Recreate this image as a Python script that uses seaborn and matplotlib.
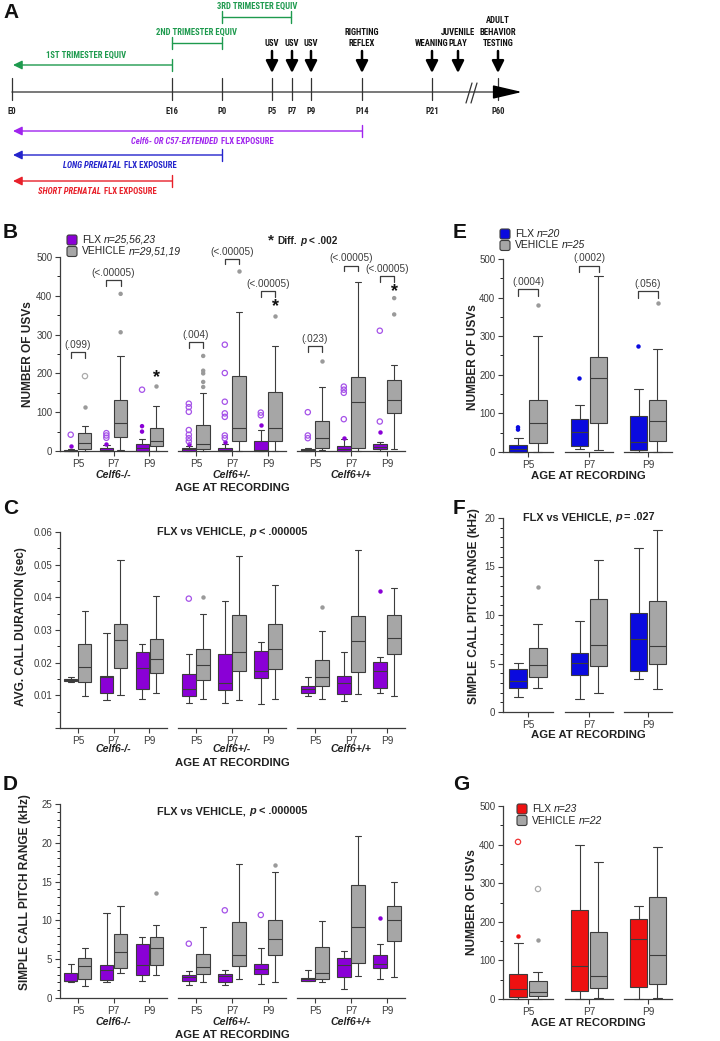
"""
plot.py
Prenatal FLX exposure timeline (A) and USV box plots (B-G), saved as out.png.
"""

import matplotlib
matplotlib.use("Agg")
import matplotlib.pyplot as plt
import pandas as pd
import seaborn as sns
from matplotlib import font_manager
from matplotlib.offsetbox import AnnotationBbox, HPacker, TextArea
from matplotlib.patches import FancyBboxPatch
from matplotlib.ticker import FuncFormatter, MultipleLocator

W, H = 720, 1041
AGES = ["P5", "P7", "P9"]
GENOTYPES = ["Celf6-/-", "Celf6+/-", "Celf6+/+"]
GROUPS = ["FLX", "VEHICLE"]

# five-number summaries: [low whisker, Q1, median, Q3, high whisker], per genotype per age
usv_flx = [[[0, 0, 1, 3, 6], [0, 0, 2, 8, 15], [0, 0, 9, 19, 32]],
           [[0, 0, 4, 8, 14], [0, 0, 3, 8, 18], [0, 0, 2, 27, 54]],
           [[0, 0, 2, 6, 9], [0, 0, 5, 13, 30], [0, 4, 11, 19, 24]]]
usv_veh = [[[0, 5, 21, 46, 65], [2, 36, 72, 131, 244], [0, 13, 26, 59, 117]],
           [[0, 6, 17, 67, 149], [0, 27, 59, 193, 357], [0, 25, 60, 152, 270]],
           [[2, 8, 34, 77, 164], [0, 9, 127, 190, 436], [5, 97, 131, 182, 222]]]
usv_flx_dots = [[[12], [19], [50, 64]], [[18], [22], [68]], [[], [33], [48]]]
usv_flx_rings = [[[42], [34, 40, 46], [158]],
                 [[25, 33, 42, 54, 101, 113, 122], [33, 40, 88, 97, 127, 201, 274], [92, 99]],
                 [[33, 40, 100], [82, 150, 158, 166], [76, 310]]]
usv_veh_dots = [[[114], [306, 405], [167]],
                [[165, 178, 200, 207, 245], [465], [348]],
                [[233], [], [352, 394]]]
usv_veh_rings = [[[193], [], []], [[], [], []], [[], [], []]]
usv_brackets = [[(0, 255, "(.099)"), (1, 440, "(<.00005)")],
                [(0, 281, "(.004)"), (1, 496, "(<.00005)"), (2, 412, "(<.00005)")],
                [(0, 271, "(.023)"), (1, 478, "(<.00005)"), (2, 450, "(<.00005)")]]
usv_stars = [(2, 190), (2, 371), (2, 412)]

dur_flx = [[[0.0141, 0.0143, 0.0146, 0.0149, 0.0156], [0.0085, 0.0108, 0.0156, 0.0158, 0.0291],
            [0.0090, 0.0120, 0.0184, 0.0232, 0.0258]],
           [[0.0077, 0.0098, 0.0120, 0.0164, 0.0228], [0.0077, 0.0115, 0.0138, 0.0228, 0.0388],
            [0.0072, 0.0153, 0.0176, 0.0236, 0.0263]],
           [[0.0098, 0.0108, 0.0120, 0.0129, 0.0155], [0.0083, 0.0105, 0.0138, 0.0158, 0.0233],
            [0.0108, 0.0122, 0.0173, 0.0202, 0.0217]]]
dur_veh = [[[0.0097, 0.0141, 0.0187, 0.0258, 0.0358], [0.0102, 0.0184, 0.0270, 0.0317, 0.0513],
            [0.0107, 0.0169, 0.0210, 0.0273, 0.0403]],
           [[0.0088, 0.0146, 0.0194, 0.0242, 0.0350], [0.0087, 0.0174, 0.0233, 0.0347, 0.0527],
            [0.0090, 0.0180, 0.0243, 0.0319, 0.0439]],
           [[0.0089, 0.0128, 0.0155, 0.0209, 0.0297], [0.0105, 0.0171, 0.0267, 0.0342, 0.0544],
            [0.0098, 0.0228, 0.0276, 0.0345, 0.0430]]]
dur_flx_dots = [[[], [], []], [[], [], []], [[], [], [0.0419]]]
dur_flx_rings = [[[], [], []], [[0.0396], [], []], [[], [], []]]
dur_veh_dots = [[[], [], []], [[0.0401], [], []], [[0.0370], [], []]]

pitch_flx = [[[2.1, 2.15, 2.25, 3.2, 4.4], [2.1, 2.3, 3.6, 4.2, 10.9], [2.2, 2.9, 4.3, 6.9, 7.9]],
             [[1.7, 2.2, 2.7, 3.0, 3.5], [1.7, 2.1, 2.8, 3.1, 3.6], [1.8, 3.1, 3.8, 4.4, 6.4]],
             [[2.2, 2.2, 2.5, 2.6, 3.6], [1.2, 2.7, 4.3, 5.2, 6.0], [2.4, 3.9, 4.4, 5.5, 7.0]]]
pitch_veh = [[[1.6, 2.4, 4.1, 5.1, 6.4], [3.2, 3.9, 5.9, 8.2, 11.8], [2.9, 4.3, 6.4, 7.9, 9.4]],
             [[2.1, 3.1, 4.0, 5.7, 9.1], [2.4, 4.1, 5.6, 9.8, 17.3], [2.1, 5.5, 7.6, 10.1, 16.3]],
             [[2.0, 2.4, 3.2, 6.6, 9.9], [2.8, 4.5, 9.1, 14.6, 20.9], [2.7, 7.4, 10.1, 11.8, 14.9]]]
pitch_flx_dots = [[[], [], []], [[], [], []], [[], [], [10.3]]]
pitch_flx_rings = [[[], [], []], [[7.0], [11.3], [10.7]], [[], [], []]]
pitch_veh_dots = [[[], [], [13.5]], [[], [], [17.2]], [[], [], []]]

# long prenatal exposure (E, F), per age
long_usv_flx = [[0, 0, 9, 17, 35], [8, 16, 51, 85, 121], [0, 6, 26, 92, 162]]
long_usv_veh = [[0, 23, 75, 135, 300], [6, 75, 193, 247, 455], [0, 29, 81, 135, 268]]
long_usv_flx_dots = [[58, 64], [191], [275]]
long_usv_veh_dots = [[381], [], [386]]
long_usv_brackets = [(0, 421, "(.0004)"), (1, 483, "(.0002)"), (2, 417, "(.056)")]
long_pitch_flx = [[1.5, 2.5, 3.2, 4.45, 5.1], [1.3, 3.8, 5.1, 6.1, 9.4], [3.4, 4.2, 7.5, 10.2, 16.9]]
long_pitch_veh = [[2.5, 3.6, 4.8, 6.6, 9.1], [2.0, 4.7, 6.9, 11.7, 15.7], [2.4, 4.9, 6.8, 11.4, 18.8]]
long_pitch_veh_dots = [[12.9], [], []]

# short prenatal exposure (G), per age
short_usv_flx = [[0, 6, 25, 66, 146], [0, 21, 86, 231, 399], [0, 32, 156, 206, 241]]
short_usv_veh = [[0, 9, 19, 47, 69], [2, 29, 60, 174, 354], [2, 40, 113, 264, 395]]
short_usv_flx_dots = [[163], [], []]
short_usv_flx_rings = [[407], [], []]
short_usv_veh_dots = [[152], [], []]
short_usv_veh_rings = [[285], [], []]

# timeline (A)
tl_labels = ["E0", "E16", "P0", "P5", "P7", "P9", "P14", "P21", "P60"]
tl_x = [12, 172, 222, 272, 292, 311, 362, 432, 498]

INK = "#3c3c3c"
PURPLE, BLUE, RED, GRAY = "#8A00D6", "#0A0ADF", "#EE1111", "#A6A6A6"
GREEN, TL_PURPLE, TL_BLUE, TL_RED = "#1E9A4E", "#A024EE", "#2424CC", "#E8202A"

sns.set_theme(style="ticks")
plt.rcParams["font.family"] = ["Liberation Sans", "DejaVu Sans"]
plt.rcParams["axes.linewidth"] = 0.9
plt.rcParams["axes.edgecolor"] = INK


def pick_family(names):
    for name in names:
        try:
            font_manager.findfont(font_manager.FontProperties(family=name), fallback_to_default=False)
            return name
        except ValueError:
            continue
    return None


NARROW = pick_family(["Liberation Sans Narrow", "Roboto Condensed", "Open Sans Condensed"])
TL_FONT = NARROW or "Liberation Sans"
TL_SIZE = 6.2 if NARROW else 5.1


def px_axes(fig, x0, x1, y0, y1):
    return fig.add_axes([x0 / W, 1 - y1 / H, (x1 - x0) / W, (y1 - y0) / H])


def frame(ages, flx, veh):
    rows = [(age, grp, v) for grp, per_age in zip(GROUPS, (flx, veh))
            for age, vals in zip(ages, per_age) for v in vals]
    return pd.DataFrame(rows, columns=["age", "group", "value"])


def draw_boxes(ax, ages, flx, veh, colors, flx_dots=None, veh_dots=None, flx_rings=None, veh_rings=None):
    empty = [[] for _ in ages]
    sns.boxplot(data=frame(ages, flx, veh), x="age", y="value", hue="group", order=ages,
                hue_order=GROUPS, palette=dict(zip(GROUPS, colors[0])), whis=(0, 100),
                width=0.78, gap=0.06, linewidth=0.8, linecolor=INK, saturation=1,
                showfliers=False, legend=False, ax=ax)
    dots = frame(ages, flx_dots or empty, veh_dots or empty)
    if len(dots):
        sns.stripplot(data=dots, x="age", y="value", hue="group", order=ages, hue_order=GROUPS,
                      palette=dict(zip(GROUPS, colors[1])), dodge=True, jitter=False, size=3.2,
                      linewidth=0, legend=False, ax=ax)
    rings = frame(ages, flx_rings or empty, veh_rings or empty)
    if len(rings):
        n0 = len(ax.collections)
        sns.stripplot(data=rings, x="age", y="value", hue="group", order=ages, hue_order=GROUPS,
                      palette=dict(zip(GROUPS, colors[2])), dodge=True, jitter=False, size=3.8,
                      linewidth=0, legend=False, ax=ax)
        for coll in ax.collections[n0:]:
            coll.set_edgecolor(coll.get_facecolor())
            coll.set_facecolor("none")
            coll.set_linewidth(0.9)
    for art in ax.patches + ax.lines + ax.collections:
        art.set_clip_on(False)


def style_axes(ax, n, first, ylim, major, minor, fmt):
    ax.set_xlim(-0.5, n - 0.5)
    ax.set_ylim(*ylim)
    ax.set_xlabel("")
    ax.set_ylabel("")
    ax.set_facecolor("none")
    for side in ("top", "right"):
        ax.spines[side].set_visible(False)
    ax.tick_params(axis="x", length=3.5, width=0.8, pad=2, labelsize=7.2, colors=INK)
    if first:
        ax.yaxis.set_major_locator(MultipleLocator(major))
        ax.yaxis.set_minor_locator(MultipleLocator(minor))
        ax.yaxis.set_major_formatter(FuncFormatter(fmt))
        ax.tick_params(axis="y", which="major", length=3.5, width=0.8, pad=2, labelsize=7.0, colors=INK)
        ax.tick_params(axis="y", which="minor", length=2.2, width=0.7, left=True)
    else:
        ax.spines["left"].set_visible(False)
        ax.tick_params(axis="y", which="both", left=False, labelleft=False)


def bracket(ax, pos, top, label, drop):
    off = 0.2
    ax.plot([pos - off, pos - off, pos + off, pos + off], [top - drop, top, top, top - drop],
            color=INK, lw=0.9, clip_on=False)
    ax.text(pos, top + drop * 0.35, label, ha="center", va="bottom", fontsize=7.2,
            color=INK, clip_on=False)


def mixed(ov, x, y, parts, ha="left", size=7.5, color="#222222", family=None):
    boxes = []
    for text, style in parts:
        props = dict(fontsize=size, color=color, family=family or plt.rcParams["font.family"])
        props.update(style)
        boxes.append(TextArea(text, textprops=props))
    pack = HPacker(children=boxes, align="baseline", pad=0, sep=2.2)
    ab = AnnotationBbox(pack, (x, y), xycoords="data", frameon=False, pad=0,
                        box_alignment=({"left": 0, "center": 0.5}[ha], 0.5))
    ov.add_artist(ab)


def legend(ov, x, y, color, entries):
    for i, (name, n_text) in enumerate(entries):
        yy = y + i * 11.5
        fc = color if i == 0 else GRAY
        ov.add_patch(FancyBboxPatch((x, yy - 5), 10, 10, boxstyle="round,pad=0,rounding_size=2",
                                    fc=fc, ec=INK, lw=0.8))
        mixed(ov, x + 15, yy, [(name, {}), (n_text, {"fontstyle": "italic"})], size=7.5)


def draw_timeline(ov):
    tl = dict(family=TL_FONT, fontsize=TL_SIZE, fontweight="bold")
    ov.plot([12, 500], [92, 92], color="#555555", lw=1.1)
    ov.annotate("", xy=(522, 92), xytext=(496, 92),
                arrowprops=dict(arrowstyle="-|>,head_width=0.35,head_length=1.5", color="black",
                                lw=1.1, shrinkA=0, shrinkB=0))
    for lab, x in zip(tl_labels, tl_x):
        ov.plot([x, x], [78, 100], color="#333333", lw=0.9)
        ov.text(x, 112, lab, ha="center", va="center", color="#222222", **tl)
    ov.plot([466, 472], [103, 83], color="#333333", lw=0.9)
    ov.plot([471, 477], [103, 83], color="#333333", lw=0.9)

    events = [(272, ["USV"]), (292, ["USV"]), (311, ["USV"]), (362, ["RIGHTING", "REFLEX"]),
              (432, ["WEANING"]), (458, ["JUVENILE", "PLAY"]), (498, ["ADULT", "BEHAVIOR", "TESTING"])]
    for x, lines in events:
        ov.annotate("", xy=(x, 73), xytext=(x, 51),
                    arrowprops=dict(arrowstyle="-|>,head_width=0.3,head_length=0.6", color="black",
                                    lw=1.8, shrinkA=0, shrinkB=0))
        for k, line in enumerate(reversed(lines)):
            ov.text(x, 44 - k * 11.8, line, ha="center", va="center", color="#111111", **tl)

    def span(x0, x1, y, color, arrow):
        if arrow:
            ov.annotate("", xy=(13, y), xytext=(x1, y),
                        arrowprops=dict(arrowstyle="-|>,head_width=0.22,head_length=0.45",
                                        color=color, lw=1.0, shrinkA=0, shrinkB=0))
        else:
            ov.plot([x0, x0], [y - 6, y + 6], color=color, lw=1.0)
            ov.plot([x0, x1], [y, y], color=color, lw=1.0)
        ov.plot([x1, x1], [y - 6, y + 6], color=color, lw=1.0)

    span(12, 172, 65, GREEN, True)
    span(172, 222, 43, GREEN, False)
    span(222, 291, 17, GREEN, False)
    ov.text(86, 55, "1ST TRIMESTER EQUIV", ha="center", va="center", color=GREEN, **tl)
    ov.text(197, 32, "2ND TRIMESTER EQUIV", ha="center", va="center", color=GREEN, **tl)
    ov.text(257, 6, "3RD TRIMESTER EQUIV", ha="center", va="center", color=GREEN, **tl)

    span(12, 362, 131, TL_PURPLE, True)
    span(12, 222, 155, TL_BLUE, True)
    span(12, 172, 181, TL_RED, True)
    it = {"fontstyle": "italic", "fontweight": "bold"}
    bd = {"fontweight": "bold"}
    mixed(ov, 202, 142, [("Celf6- OR C57-EXTENDED", it), ("FLX EXPOSURE", bd)], ha="center",
          size=TL_SIZE, color=TL_PURPLE, family=TL_FONT)
    mixed(ov, 120, 166, [("LONG PRENATAL", it), ("FLX EXPOSURE", bd)], ha="center",
          size=TL_SIZE, color=TL_BLUE, family=TL_FONT)
    mixed(ov, 97, 192, [("SHORT PRENATAL", it), ("FLX EXPOSURE", bd)], ha="center",
          size=TL_SIZE, color=TL_RED, family=TL_FONT)


def main():
    fig = plt.figure(figsize=(W / 100, H / 100), dpi=100)
    fig.patch.set_facecolor("white")

    int_fmt = lambda v, _: f"{v:g}"
    dur_fmt = lambda v, _: "" if v < 1e-9 else f"{v:.2f}"
    purple_cols = ([PURPLE, GRAY], [PURPLE, "#9A9A9A"], ["#A552E8", "#ABABAB"])
    blue_cols = ([BLUE, GRAY], [BLUE, "#9A9A9A"], [BLUE, "#ABABAB"])
    red_cols = ([RED, GRAY], [RED, "#9A9A9A"], ["#F03535", "#ABABAB"])

    seg_left = [(60, 167), (178, 286), (297, 405)]
    seg_right = [(503, 553), (565, 613), (624, 672)]

    # B, C, D: one axes per genotype
    genotype_panels = [
        ((257, 451), usv_flx, usv_veh, usv_flx_dots, usv_veh_dots, usv_flx_rings, usv_veh_rings,
         (0, 500), 100, 50, int_fmt),
        ((532, 728), dur_flx, dur_veh, dur_flx_dots, dur_veh_dots, dur_flx_rings, None,
         (0, 0.06), 0.01, 0.005, dur_fmt),
        ((804, 998), pitch_flx, pitch_veh, pitch_flx_dots, pitch_veh_dots, pitch_flx_rings, None,
         (0, 25), 5, 1, int_fmt),
    ]
    usv_axes = []
    for (y0, y1), flx, veh, fd, vd, fr, vr, ylim, major, minor, fmt in genotype_panels:
        for g, (x0, x1) in enumerate(seg_left):
            ax = px_axes(fig, x0, x1, y0, y1)
            draw_boxes(ax, AGES, flx[g], veh[g], purple_cols, fd[g], vd[g],
                       fr[g] if fr else None, vr[g] if vr else None)
            style_axes(ax, 3, g == 0, ylim, major, minor, fmt)
            if flx is usv_flx:
                usv_axes.append(ax)

    for g, ax in enumerate(usv_axes):
        for pos, top, label in usv_brackets[g]:
            bracket(ax, pos, top, label, 15)
        pos, y = usv_stars[g]
        ax.text(pos + 0.2, y, "*", ha="center", va="center", fontsize=13, fontweight="bold",
                color="#111111", clip_on=False)

    # E, F, G: one axes per age
    age_panels = [
        ((259, 452), long_usv_flx, long_usv_veh, long_usv_flx_dots, long_usv_veh_dots, None, None,
         blue_cols, (0, 500), 100, 50),
        ((518, 712), long_pitch_flx, long_pitch_veh, None, long_pitch_veh_dots, None, None,
         blue_cols, (0, 20), 5, 1),
        ((806, 999), short_usv_flx, short_usv_veh, short_usv_flx_dots, short_usv_veh_dots,
         short_usv_flx_rings, short_usv_veh_rings, red_cols, (0, 500), 100, 50),
    ]
    for p, ((y0, y1), flx, veh, fd, vd, fr, vr, cols, ylim, major, minor) in enumerate(age_panels):
        for a, (x0, x1) in enumerate(seg_right):
            ax = px_axes(fig, x0, x1, y0, y1)
            draw_boxes(ax, [AGES[a]], [flx[a]], [veh[a]], cols,
                       [fd[a]] if fd else None, [vd[a]] if vd else None,
                       [fr[a]] if fr else None, [vr[a]] if vr else None)
            style_axes(ax, 1, a == 0, ylim, major, minor, int_fmt)
            if p == 0:
                pos, top, label = long_usv_brackets[a]
                bracket(ax, 0, top, label, 17)

    # overlay in pixel coordinates for labels and the timeline
    ov = fig.add_axes([0, 0, 1, 1])
    ov.set_xlim(0, W)
    ov.set_ylim(H, 0)
    ov.axis("off")

    draw_timeline(ov)

    for letter, x, y in [("A", 3, 13), ("B", 3, 232), ("C", 3, 508), ("D", 3, 784),
                         ("E", 453, 232), ("F", 453, 508), ("G", 453, 784)]:
        ov.text(x, y, letter, ha="left", va="center", fontsize=15, fontweight="bold", color="#111111")

    ylabels = [(28, 354, "NUMBER OF USVs"), (21, 627, "AVG. CALL DURATION (sec)"),
               (25, 892, "SIMPLE CALL PITCH RANGE (kHz)"), (473, 357, "NUMBER OF USVs"),
               (474, 606, "SIMPLE CALL PITCH RANGE (kHz)"), (472, 902, "NUMBER OF USVs")]
    for x, y, text in ylabels:
        ov.text(x, y, text, rotation=90, ha="center", va="center", fontsize=8.6,
                fontweight="bold", color="#222222")

    for y_geno, y_age in [(475, 488), (749, 763), (1022, 1035)]:
        for (x0, x1), name in zip(seg_left, GENOTYPES):
            ov.text((x0 + x1) / 2, y_geno, name, ha="center", va="center", fontsize=7.6,
                    fontweight="bold", fontstyle="italic", color="#222222")
        ov.text(232, y_age, "AGE AT RECORDING", ha="center", va="center", fontsize=8.2,
                fontweight="bold", color="#222222")
    for y_age in (476, 735, 1023):
        ov.text(588, y_age, "AGE AT RECORDING", ha="center", va="center", fontsize=8.2,
                fontweight="bold", color="#222222")

    bd = {"fontweight": "bold"}
    bi = {"fontweight": "bold", "fontstyle": "italic"}
    for y in (532, 811):
        mixed(ov, 232, y, [("FLX vs VEHICLE,", bd), ("p", bi), ("< .000005", bd)], ha="center", size=7.8)
    mixed(ov, 589, 517, [("FLX vs VEHICLE,", bd), ("p", bi), ("= .027", bd)], ha="center", size=7.8)
    mixed(ov, 268, 240, [("*", {"fontweight": "bold", "fontsize": 11}), ("Diff.", bd), ("p", bi),
                         ("< .002", bd)], size=7.3)

    legend(ov, 67, 240, PURPLE, [("FLX", "n=25,56,23"), ("VEHICLE", "n=29,51,19")])
    legend(ov, 500, 234, BLUE, [("FLX", "n=20"), ("VEHICLE", "n=25")])
    legend(ov, 517, 809, RED, [("FLX", "n=23"), ("VEHICLE", "n=22")])

    fig.savefig("out.png", dpi=100, facecolor="white")
    plt.close(fig)


if __name__ == "__main__":
    main()
